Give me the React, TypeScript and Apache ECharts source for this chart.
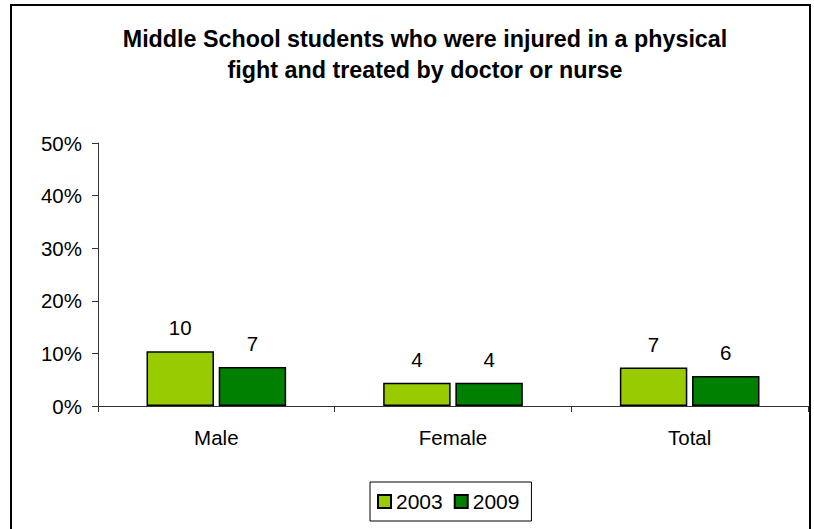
import React, { useEffect, useRef } from "react";
import * as echarts from "echarts";

const categories = ["Male", "Female", "Total"];
const seriesNames = ["2003", "2009"];
const values2003 = [10.4, 4.4, 7.3];
const values2009 = [7.4, 4.4, 5.7];
const colors = ["#99CC00", "#008000"];
const titleLines = [
  "Middle School students who were injured in a physical",
  "fight and treated by doctor or nurse",
];

export default function App() {
  const ref = useRef<HTMLDivElement>(null);
  useEffect(() => {
    const chart = echarts.init(ref.current!, null, { renderer: "svg" });
    const font = "Liberation Sans, Arial, sans-serif";
    const fs = 20.5;
    const mkSeries = (name: string, data: number[], color: string) => ({
      name,
      type: "bar",
      data,
      barGap: "7%",
      barCategoryGap: "41%",
      itemStyle: { color, borderColor: "#000", borderWidth: 1.5 },
      label: {
        show: true,
        position: "top",
        distance: 13,
        color: "#000",
        fontSize: fs,
        fontFamily: font,
        formatter: (p: any) => String(Math.round(p.value)),
      },
    });
    chart.setOption({
      animation: false,
      backgroundColor: "#fff",
      title: {
        text: titleLines.join("\n"),
        left: 420,
        textAlign: "center",
        top: 18,
        textStyle: {
          fontSize: 23.3,
          fontWeight: "bold",
          fontFamily: font,
          color: "#000",
          lineHeight: 31,
        },
      },
      graphic: [
        {
          type: "rect",
          shape: { x: 11, y: 5, width: 799, height: 560 },
          style: { fill: "none", stroke: "#000", lineWidth: 2 },
          silent: true,
          z: 100,
        },
      ],
      legend: {
        data: seriesNames,
        left: 370,
        top: 482,
        orient: "horizontal",
        itemWidth: 13,
        itemHeight: 13,
        itemGap: 11,
        icon: "rect",
        padding: [9, 12, 9, 7],
        borderColor: "#000",
        borderWidth: 1,
        textStyle: { fontSize: 21, fontFamily: font, color: "#000" },
      },
      grid: { left: 98, right: 6, top: 143, bottom: 123, containLabel: false },
      xAxis: {
        type: "category",
        data: categories,
        axisLine: { lineStyle: { color: "#333", width: 1 } },
        axisTick: { show: true, alignWithLabel: false, length: 6, lineStyle: { color: "#333" } },
        axisLabel: { fontSize: fs, fontFamily: font, color: "#000", margin: 21 },
      },
      yAxis: {
        type: "value",
        min: 0,
        max: 50,
        interval: 10,
        splitLine: { show: false },
        axisLine: { show: true, lineStyle: { color: "#333", width: 1 } },
        axisTick: { show: true, length: 6, lineStyle: { color: "#333" } },
        axisLabel: {
          fontSize: fs,
          fontFamily: font,
          color: "#000",
          margin: 16,
          formatter: "{value}%",
        },
      },
      series: [
        { ...mkSeries(seriesNames[0], values2003, colors[0]) },
        { ...mkSeries(seriesNames[1], values2009, colors[1]) },
      ],
    });
    return () => chart.dispose();
  }, []);
  return (
    <div
      ref={ref}
      style={{ position: "absolute", left: 0, top: 0, width: 814, height: 529 }}
    />
  );
}
